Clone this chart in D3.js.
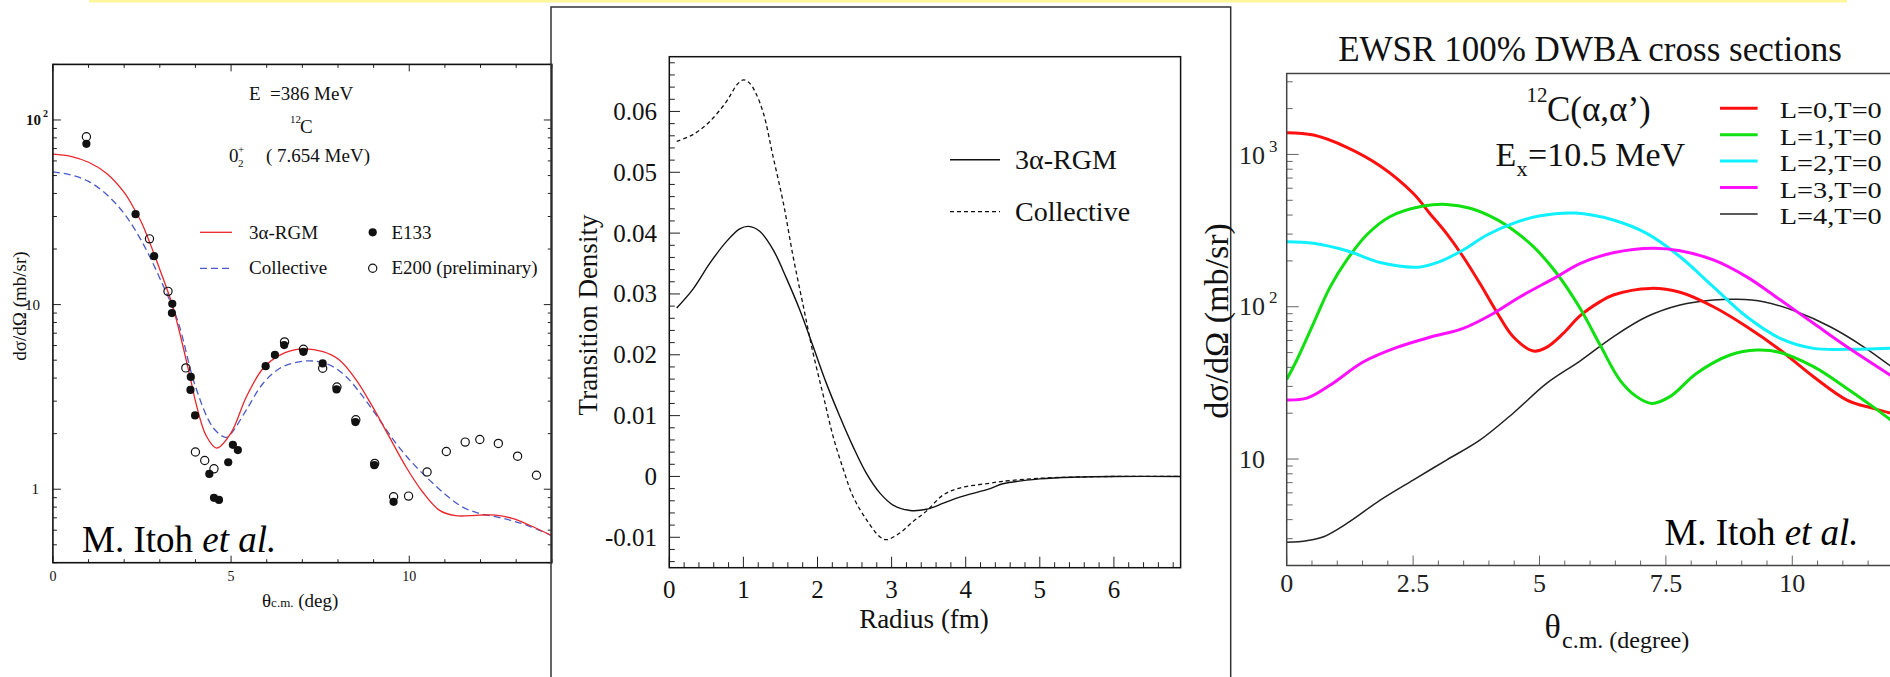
<!DOCTYPE html>
<html>
<head>
<meta charset="utf-8">
<script src="https://cdn.jsdelivr.net/npm/d3@7"></script>
<style>
  html, body { margin: 0; padding: 0; background: #fff; }
  svg { display: block; font-family: "Liberation Serif", "Times New Roman", serif; }
  text { white-space: pre; }
</style>
</head>
<body>
<svg id="fig" width="1890" height="677"></svg>
<script>
// ---------------- Left panel: 12C(α,α') to the 0₂⁺ state at 386 MeV ----------------
const rgmTheta = [0,0.5,1,1.5,2,2.32,2.5,2.84,3,3.35,3.5,3.87,4,4.3,4.6,5.0,5.43,5.9,6.37,6.97,7.58,8.04,8.51,8.97,9.44,9.91,10.37,10.84,11.3,11.96,12.42,12.89,13.36,14];
const rgmXsec  = [65.3,63.5,59,51.5,40.5,32,27.5,18.8,15.5,10,7.8,3.9,3.0,1.95,1.67,2.02,3.17,4.52,5.33,5.75,5.56,5.01,3.91,2.80,1.92,1.32,0.969,0.771,0.719,0.724,0.724,0.695,0.640,0.56];

const colTheta = [0,0.5,1,1.5,2,2.5,3,3.5,4,4.5,4.85,5.0,5.43,5.9,6.37,6.83,7.3,7.77,8.23,8.7,9.17,9.63,10.1,10.57,11.03,11.5,11.96,12.42,12.89,13.36,14];
const colXsec  = [52.4,50.4,46.5,39.6,31.1,21.9,13.9,8.2,3.6,2.15,1.91,2.0,2.69,3.75,4.52,4.87,4.95,4.71,4.07,3.17,2.37,1.77,1.38,1.12,0.93,0.80,0.74,0.71,0.675,0.632,0.56];

const e133Theta = [0.94,2.32,2.84,3.35,3.34,3.87,3.86,3.99,4.39,4.52,4.66,4.92,5.05,5.19,5.97,6.23,6.49,7.03,7.57,7.96,8.49,9.02,9.56];
const e133Xsec  = [74.3,30.9,18.3,10.1,9.0,4.06,3.45,2.51,1.21,0.898,0.875,1.40,1.74,1.63,4.64,5.34,6.04,5.55,4.80,3.47,2.31,1.35,0.855];

const e200Theta = [0.94,2.71,3.23,3.73,4.00,4.26,4.52,6.50,7.03,7.57,7.97,8.50,9.03,9.56,9.98,10.50,11.04,11.57,11.98,12.50,13.04,13.57];
const e200Xsec  = [81.1,22.7,11.8,4.54,1.59,1.43,1.29,6.28,5.73,4.52,3.58,2.38,1.38,0.911,0.918,1.24,1.60,1.80,1.86,1.77,1.51,1.19];

const p1XTicks = [0, 5, 10];

// ---------------- Middle panel: transition densities ----------------
const radiusRgm  = [0.1,0.32,0.55,0.77,0.95,1.07,1.22,1.4,1.58,1.76,1.94,2.12,2.3,2.48,2.66,2.84,3.02,3.25,3.47,3.7,3.92,4.33,4.5,5.0,5.5,6.0,6.9];
const densityRgm = [0.0277,0.0308,0.0351,0.0386,0.0407,0.0411,0.0403,0.0373,0.0326,0.0274,0.0214,0.0153,0.0099,0.0049,0.0005,-0.0027,-0.0047,-0.0056,-0.0054,-0.0044,-0.0034,-0.0020,-0.0012,-0.0004,-0.0001,0,0];

const radiusCol  = [0.1,0.32,0.55,0.77,0.84,0.92,1.0,1.08,1.16,1.27,1.4,1.54,1.67,1.81,1.94,2.08,2.21,2.35,2.48,2.66,2.84,2.93,3.11,3.29,3.47,3.7,3.92,4.33,4.5,5.0,5.5,6.0,6.9];
const densityCol = [0.0551,0.0562,0.0584,0.0616,0.0630,0.0645,0.0652,0.0647,0.0632,0.0597,0.0526,0.0449,0.0362,0.0279,0.0203,0.0132,0.0066,0.0011,-0.0033,-0.0071,-0.0099,-0.0104,-0.0093,-0.0074,-0.0057,-0.0030,-0.0019,-0.0011,-0.0008,-0.0003,-0.0001,0,0];

const p2YTicks = [-0.01, 0, 0.01, 0.02, 0.03, 0.04, 0.05, 0.06];
const p2YTickLabels = ["-0.01", "0", "0.01", "0.02", "0.03", "0.04", "0.05", "0.06"];
const p2XTicks = [0, 1, 2, 3, 4, 5, 6];

// ---------------- Right panel: EWSR 100% DWBA cross sections ----------------
const l0Theta = [0,0.53,1.19,1.85,2.5,2.83,3.16,3.49,3.82,4.15,4.48,4.88,5.14,5.47,5.8,6.2,6.46,7.19,7.78,8.44,9.1,9.76,10.42,11.08,11.6,12];
const l0Xsec  = [1390,1340,1114,840,556,410,303,213,142.5,92.8,63.5,51.2,54.1,66.8,87,108,119.5,132,124.4,100,73.9,52,34.7,24.4,21.5,19.8];

const l1Theta = [0,0.2,0.53,0.86,1.19,1.58,2.04,2.7,3.16,3.63,4.15,4.48,4.88,5.34,5.8,6.2,6.59,6.92,7.22,7.58,8.11,8.77,9.3,9.76,10.42,11.08,11.6,12];
const l1Xsec  = [33.3,44.7,77.8,135,203,296,390,458,470,443,375,319,248,166,98,56,33,25.7,23.2,25.7,36.6,48.2,52,50.1,40.4,29.1,22,17.5];

const l2Theta = [0,0.53,1.19,1.85,2.6,3.03,3.49,3.96,4.48,4.99,5.7,6.46,7.12,7.78,8.44,9.1,9.76,10.42,11.08,12];
const l2Xsec  = [267,261,233,195,182,198,236,296,353,394,412,371,303,213,135,85.9,62,53.3,52.5,53.5];

const l3Theta = [0,0.4,0.86,1.52,2.18,2.83,3.49,4.09,4.61,5.34,5.8,6.46,7.25,7.78,8.44,9.1,9.76,10.42,11.08,12];
const l3Xsec  = [24.4,25.1,30.6,43.5,54.1,63,72.1,90.5,116,157,192,226,242,233,203,157,111,77.8,54.6,34.5];

const l4Theta = [0,0.4,0.73,1.19,1.85,2.5,3.16,3.82,4.48,5.14,5.8,6.46,7.12,7.78,8.44,8.9,9.43,10.09,10.75,11.41,12];
const l4Xsec  = [2.84,2.91,3.09,3.78,5.38,7.28,9.85,13.3,20,31.4,44,63.5,85.9,102.6,110.7,112,108,92.7,73.9,54.6,39.5];

const p3Labels = ["L=0,T=0", "L=1,T=0", "L=2,T=0", "L=3,T=0", "L=4,T=0"];
const p3Colors = ["#ff1010", "#10e010", "#10f0ff", "#ff10ff", "#222222"];
const p3XTicks = [0, 2.5, 5, 7.5, 10];
const p3XTickLabels = ["0", "2.5", "5", "7.5", "10"];

// ---------------------------------------------------------------------
const FONT = '"Liberation Serif", "Times New Roman", serif';
const svg = d3.select("#fig");
const zip = (xs, ys) => xs.map((x, i) => [x, ys[i]]);
const smooth = d3.curveCatmullRom.alpha(0.5);

function addText(g, x, y, parts, opts = {}) {
  const t = g.append("text").attr("x", x).attr("y", y)
    .attr("font-family", FONT)
    .attr("font-size", opts.size || 16)
    .attr("fill", opts.fill || "#111")
    .attr("text-anchor", opts.anchor || "start");
  if (opts.weight) t.attr("font-weight", opts.weight);
  if (opts.transform) t.attr("transform", opts.transform);
  if (opts.width) t.attr("textLength", opts.width).attr("lengthAdjust", "spacingAndGlyphs");
  parts.forEach(p => {
    const s = t.append("tspan").text(p.t);
    if (p.size) s.attr("font-size", p.size);
    if (p.dx != null) s.attr("dx", p.dx);
    if (p.dy != null) s.attr("dy", p.dy);
    if (p.x != null) s.attr("x", p.x);
    if (p.italic) s.attr("font-style", "italic");
  });
  return t;
}

function tickLines(g, data, pos, color, width) {
  g.selectAll(null).data(data).join("line")
    .attr("x1", d => pos(d)[0]).attr("y1", d => pos(d)[1])
    .attr("x2", d => pos(d)[2]).attr("y2", d => pos(d)[3])
    .attr("stroke", color).attr("stroke-width", width);
}

// top highlight strip
svg.append("rect").attr("x", 89).attr("y", 0).attr("width", 1758).attr("height", 2.5)
  .attr("fill", "#fdf69a");

// ======================= Panel 1 =======================
{
  const g = svg.append("g");
  const L = 52.9, R = 551.8, T = 64.4, B = 562.7;
  const x = d3.scaleLinear().domain([0, 14]).range([L, R]);
  const y = d3.scaleLog().domain([0.4, 200]).range([B, T]);

  g.append("clipPath").attr("id", "clip1").append("rect")
    .attr("x", L).attr("y", T).attr("width", R - L).attr("height", B - T);

  // ticks
  const xt = d3.range(0, 15);
  const major = d => d % 5 === 0;
  tickLines(g, xt, d => [x(d), B, x(d), B - (major(d) ? 7 : 3.5)], "#222", 1);
  tickLines(g, xt, d => [x(d), T, x(d), T + (major(d) ? 7 : 3.5)], "#222", 1);
  const yt = [];
  [0.1, 1, 10, 100].forEach(dec => d3.range(1, 10).forEach(m => {
    const v = dec * m; if (v >= 0.4 && v <= 200) yt.push(v);
  }));
  const ymaj = v => [1, 10, 100].includes(v);
  tickLines(g, yt, d => [L, y(d), L + (ymaj(d) ? 8 : 4), y(d)], "#222", 1);
  tickLines(g, yt, d => [R, y(d), R - (ymaj(d) ? 8 : 4), y(d)], "#222", 1);

  // theory curves
  const line = d3.line().x(d => x(d[0])).y(d => y(d[1])).curve(smooth);
  const cg = g.append("g").attr("clip-path", "url(#clip1)");
  cg.append("path").attr("d", line(zip(colTheta, colXsec)))
    .attr("fill", "none").attr("stroke", "#4a5ac6").attr("stroke-width", 1.3)
    .attr("stroke-dasharray", "7,4");
  cg.append("path").attr("d", line(zip(rgmTheta, rgmXsec)))
    .attr("fill", "none").attr("stroke", "#e8262b").attr("stroke-width", 1.3);

  // data points
  cg.selectAll(null).data(zip(e200Theta, e200Xsec)).join("circle")
    .attr("cx", d => x(d[0])).attr("cy", d => y(d[1])).attr("r", 4.1)
    .attr("fill", "none").attr("stroke", "#111").attr("stroke-width", 1.2);
  cg.selectAll(null).data(zip(e133Theta, e133Xsec)).join("circle")
    .attr("cx", d => x(d[0])).attr("cy", d => y(d[1])).attr("r", 4.1)
    .attr("fill", "#111");

  // frame
  g.append("rect").attr("x", L).attr("y", T).attr("width", R - L).attr("height", B - T)
    .attr("fill", "none").attr("stroke", "#111").attr("stroke-width", 1.6);

  // tick labels
  p1XTicks.forEach(v => addText(g, x(v), 581, [{ t: String(v) }], { size: 14, anchor: "middle" }));
  addText(g, 26, 125, [{ t: "10" }], { size: 15, weight: "bold" });
  addText(g, 43, 117, [{ t: "2" }], { size: 10, weight: "bold" });
  addText(g, 40, y(10) + 5, [{ t: "10" }], { size: 15, anchor: "end" });
  addText(g, 39, y(1) + 5, [{ t: "1" }], { size: 15, anchor: "end" });

  // axis titles
  addText(g, 262, 607, [{ t: "θ" }, { t: "c.m.", size: 13 }, { t: "\u00a0(deg)" }], { size: 19 });
  addText(g, 0, 0, [{ t: "dσ/dΩ (mb/sr)" }],
    { size: 19, anchor: "middle", transform: "translate(26,306) rotate(-90)" });

  // annotations
  addText(g, 249, 100, [{ t: "E\u00a0\u00a0=386 MeV" }], { size: 19 });
  addText(g, 290, 123, [{ t: "12" }], { size: 11 });
  addText(g, 300, 133, [{ t: "C" }], { size: 19 });
  addText(g, 229, 162, [{ t: "0" }], { size: 19 });
  addText(g, 238, 153, [{ t: "+" }], { size: 11 });
  addText(g, 238, 167, [{ t: "2" }], { size: 11 });
  addText(g, 266, 162, [{ t: "(\u00a07.654 MeV)" }], { size: 19 });

  // legend
  g.append("line").attr("x1", 200).attr("x2", 232).attr("y1", 232.3).attr("y2", 232.3)
    .attr("stroke", "#e8262b").attr("stroke-width", 1.3);
  g.append("line").attr("x1", 200).attr("x2", 232).attr("y1", 268.3).attr("y2", 268.3)
    .attr("stroke", "#4a5ac6").attr("stroke-width", 1.3).attr("stroke-dasharray", "7,4");
  addText(g, 249, 238.5, [{ t: "3α-RGM" }], { size: 19 });
  addText(g, 249, 274, [{ t: "Collective" }], { size: 19 });
  g.append("circle").attr("cx", 372.7).attr("cy", 232.3).attr("r", 4.1).attr("fill", "#111");
  g.append("circle").attr("cx", 372.7).attr("cy", 268.3).attr("r", 4.1)
    .attr("fill", "none").attr("stroke", "#111").attr("stroke-width", 1.2);
  addText(g, 391.5, 238.5, [{ t: "E133" }], { size: 19 });
  addText(g, 391.5, 274, [{ t: "E200 (preliminary)" }], { size: 19 });

  addText(g, 82, 552, [{ t: "M. Itoh " }, { t: "et al.", italic: true }], { size: 37, fill: "#000" });
}

// ======================= Panel 2 =======================
{
  const g = svg.append("g");
  const L = 669.3, R = 1180.6, T = 56.7, B = 567.7;
  const x = d3.scaleLinear().domain([0, 6.9]).range([L, R]);
  const y = d3.scaleLinear().domain([-0.015, 0.069]).range([B, T]);

  // outer frame of the middle figure
  g.append("path").attr("d", "M551,677 V7 H1230.7 V677")
    .attr("fill", "none").attr("stroke", "#333").attr("stroke-width", 1.5);

  const yt = d3.range(-7, 35).map(i => i * 0.002);
  tickLines(g, yt, d => {
    const maj = Math.abs(Math.round(d * 1000) % 10) === 0;
    return [L, y(d), L + (maj ? 10.7 : 5.5), y(d)];
  }, "#222", 1);
  const xt = d3.range(0, 35).map(i => i * 0.2);
  tickLines(g, xt, d => {
    const maj = Math.abs(d - Math.round(d)) < 1e-6;
    return [x(d), B, x(d), B - (maj ? 11 : 5.5)];
  }, "#222", 1);

  const line = d3.line().x(d => x(d[0])).y(d => y(d[1])).curve(smooth);
  g.append("path").attr("d", line(zip(radiusCol, densityCol)))
    .attr("fill", "none").attr("stroke", "#111").attr("stroke-width", 1.3)
    .attr("stroke-dasharray", "4,3");
  g.append("path").attr("d", line(zip(radiusRgm, densityRgm)))
    .attr("fill", "none").attr("stroke", "#111").attr("stroke-width", 1.4);

  g.append("rect").attr("x", L).attr("y", T).attr("width", R - L).attr("height", B - T)
    .attr("fill", "none").attr("stroke", "#111").attr("stroke-width", 1.5);

  p2YTicks.forEach((v, i) => addText(g, 657, y(v) + 8.5, [{ t: p2YTickLabels[i] }], { size: 25, anchor: "end" }));
  p2XTicks.forEach(v => addText(g, x(v), 598, [{ t: String(v) }], { size: 25, anchor: "middle" }));

  addText(g, 924, 628, [{ t: "Radius (fm)" }], { size: 27, anchor: "middle" });
  addText(g, 0, 0, [{ t: "Transition Density" }],
    { size: 27, anchor: "middle", transform: "translate(597,315) rotate(-90)" });

  g.append("line").attr("x1", 950).attr("x2", 1000).attr("y1", 159.8).attr("y2", 159.8)
    .attr("stroke", "#111").attr("stroke-width", 1.4);
  g.append("line").attr("x1", 950).attr("x2", 1000).attr("y1", 211.6).attr("y2", 211.6)
    .attr("stroke", "#111").attr("stroke-width", 1.3).attr("stroke-dasharray", "4,3");
  addText(g, 1015, 169, [{ t: "3α-RGM" }], { size: 28 });
  addText(g, 1015, 221, [{ t: "Collective" }], { size: 28 });
}

// ======================= Panel 3 =======================
{
  const g = svg.append("g");
  const L = 1286.7, R = 1893.4, T = 73.5, B = 565.5;
  const x = d3.scaleLinear().domain([0, 12]).range([L, R]);
  const y = d3.scaleLog().domain([2, 3400]).range([B, T]);

  g.append("clipPath").attr("id", "clip3").append("rect")
    .attr("x", L).attr("y", T).attr("width", R - L).attr("height", B - T);

  const yt = [];
  [1, 10, 100, 1000].forEach(dec => d3.range(1, 10).forEach(m => {
    const v = dec * m; if (v >= 2 && v <= 3400) yt.push(v);
  }));
  const ymaj = v => [10, 100, 1000].includes(v);
  tickLines(g, yt, d => [L, y(d), L + (ymaj(d) ? 12 : 6), y(d)], "#666", 1);
  const xt = d3.range(0, 25).map(i => i * 0.5);
  tickLines(g, xt, d => [x(d), B, x(d), B - (d % 2.5 === 0 ? 10 : 5)], "#666", 1);

  const line = d3.line().x(d => x(d[0])).y(d => y(d[1])).curve(smooth);
  const series = [
    zip(l0Theta, l0Xsec), zip(l1Theta, l1Xsec), zip(l2Theta, l2Xsec),
    zip(l3Theta, l3Xsec), zip(l4Theta, l4Xsec)
  ];
  const cg = g.append("g").attr("clip-path", "url(#clip3)");
  // black first so the coloured curves sit on top
  [4, 0, 1, 2, 3].forEach(i => {
    cg.append("path").attr("d", line(series[i]))
      .attr("fill", "none").attr("stroke", p3Colors[i])
      .attr("stroke-width", i === 4 ? 1.5 : 3);
  });

  g.append("path").attr("d", `M${R},${T} H${L} V${B} H${R}`)
    .attr("fill", "none").attr("stroke", "#444").attr("stroke-width", 1.5);

  // tick labels
  addText(g, 1239, 164, [{ t: "10" }], { size: 26, fill: "#222" });
  addText(g, 1269, 152, [{ t: "3" }], { size: 17, fill: "#222" });
  addText(g, 1239, 315, [{ t: "10" }], { size: 26, fill: "#222" });
  addText(g, 1269, 303, [{ t: "2" }], { size: 17, fill: "#222" });
  addText(g, 1239, 468, [{ t: "10" }], { size: 26, fill: "#222" });
  p3XTicks.forEach((v, i) => addText(g, x(v), 592, [{ t: p3XTickLabels[i] }], { size: 26, anchor: "middle", fill: "#222" }));

  // titles
  addText(g, 1590, 60.5, [{ t: "EWSR 100% DWBA cross sections" }], { size: 35, anchor: "middle", fill: "#111" });
  addText(g, 1544.5, 638, [{ t: "θ" }], { size: 34, fill: "#111" });
  addText(g, 1562, 648, [{ t: "c.m. (degree)" }], { size: 24, fill: "#111" });
  addText(g, 0, 0, [{ t: "dσ/dΩ (mb/sr)" }],
    { size: 34, anchor: "middle", fill: "#111", transform: "translate(1228,321) rotate(-90)" });

  // annotations
  addText(g, 1526.5, 102, [{ t: "12" }], { size: 21, fill: "#111" });
  addText(g, 1547, 121, [{ t: "C(α,α’)" }], { size: 35, fill: "#111" });
  addText(g, 1495.5, 166, [{ t: "E" }], { size: 34, fill: "#111" });
  addText(g, 1516.5, 176, [{ t: "x" }], { size: 22, fill: "#111" });
  addText(g, 1528, 166, [{ t: "=10.5 MeV" }], { size: 34, fill: "#111" });

  // legend: tightly stacked rows, glyphs widened to the row width
  const rows = [108.3, 134.7, 161, 187.5, 214];
  rows.forEach((ry, i) => {
    g.append("line").attr("x1", 1720).attr("x2", 1757.6).attr("y1", ry).attr("y2", ry)
      .attr("stroke", p3Colors[i]).attr("stroke-width", i === 4 ? 1.5 : 3);
    addText(g, 1779.8, ry + 10, [{ t: p3Labels[i] }], { size: 23.5, fill: "#111", width: 102 });
  });

  addText(g, 1664.4, 545, [{ t: "M. Itoh " }, { t: "et al.", italic: true }], { size: 37, fill: "#000" });
}
</script>
</body>
</html>
